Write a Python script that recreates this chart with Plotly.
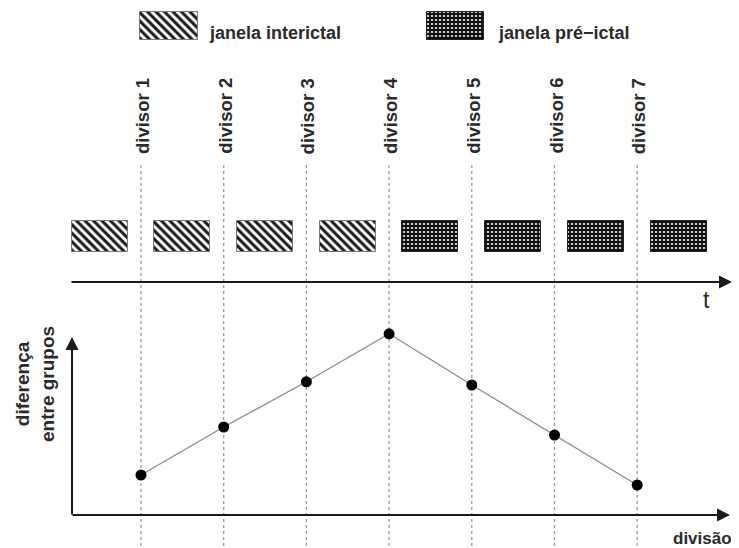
import plotly.graph_objects as go

# ---------------- data ----------------
divisor_labels = ["divisor 1", "divisor 2", "divisor 3", "divisor 4",
                  "divisor 5", "divisor 6", "divisor 7"]
divisor_pos = [1, 2, 3, 4, 5, 6, 7]
diferenca = [1.0, 2.2, 3.33, 4.53, 3.25, 2.0, 0.75]

interictal_windows = [0.5, 1.5, 2.5, 3.5]
preictal_windows = [4.5, 5.5, 6.5, 7.5]

legend_labels = ["janela interictal", "janela pré\u2212ictal"]

# ------------- pixel helpers for layout -------------
WIN_W, WIN_H = 739, 548
OFF = 8                       # page body margin
W, H = WIN_W - OFF, WIN_H - OFF
X0PX, DXPX = 141.0, 82.7      # pixel of divisor 1, pixels per divisor
Y0PX, DYPX = 515.0, 40.0      # pixel of y=0, pixels per unit

def px2x(px):
    return 1 + (px - X0PX) / DXPX

def py2y(py):
    return (Y0PX - py) / DYPX

xr = [px2x(OFF), px2x(WIN_W)]
yr = [py2y(WIN_H), py2y(OFF)]

FONT = "Liberation Sans, Arial, Helvetica, sans-serif"
TXT = "#2a2a2a"
AX_COL = "#1a1a1a"

fig = go.Figure()

# dashed divisor lines
lx, ly = [], []
for d in divisor_pos:
    lx += [d, d, None]
    ly += [py2y(165), py2y(WIN_H), None]
fig.add_trace(go.Scatter(x=lx, y=ly, mode="lines",
                         line=dict(color="#999999", width=1.3, dash="dot"),
                         hoverinfo="skip"))

inter_pat = dict(shape="\\", fgcolor="#1a1a1a", bgcolor="white",
                 size=6, solidity=0.5, fgopacity=1)
pre_pat = dict(shape="+", fgcolor="#111111", bgcolor="#c8c8c8",
               size=4, solidity=0.7, fgopacity=1)

# window boxes
box_w = 56 / DXPX
box_base = py2y(252)
box_h = py2y(221) - py2y(252)

fig.add_trace(go.Bar(
    x=interictal_windows, y=[box_h] * len(interictal_windows),
    base=[box_base] * len(interictal_windows), width=box_w,
    marker=dict(color="white", line=dict(color="#777", width=1),
                pattern=inter_pat),
    name=legend_labels[0], hoverinfo="skip"))

fig.add_trace(go.Bar(
    x=preictal_windows, y=[box_h] * len(preictal_windows),
    base=[box_base] * len(preictal_windows), width=box_w,
    marker=dict(color="#333", line=dict(color="#222", width=1),
                pattern=pre_pat),
    name=legend_labels[1], hoverinfo="skip"))

# legend swatches
leg_base = py2y(40)
leg_h = py2y(12) - py2y(40)
fig.add_trace(go.Bar(
    x=[px2x(168.5)], y=[leg_h], base=[leg_base], width=58 / DXPX,
    marker=dict(color="white", line=dict(color="#777", width=1),
                pattern=inter_pat),
    hoverinfo="skip"))
fig.add_trace(go.Bar(
    x=[px2x(455.5)], y=[leg_h], base=[leg_base], width=57 / DXPX,
    marker=dict(color="#333", line=dict(color="#222", width=1),
                pattern=pre_pat),
    hoverinfo="skip"))

# difference curve
fig.add_trace(go.Scatter(
    x=divisor_pos, y=diferenca, mode="lines+markers",
    line=dict(color="#8a8a8a", width=1.3),
    marker=dict(color="black", size=11),
    hoverinfo="skip"))

annotations = []

# divisor labels
for d, lab in zip(divisor_pos, divisor_labels):
    annotations.append(dict(x=d + 1 / DXPX, y=py2y(116), text="<b>%s</b>" % lab,
                            textangle=-90, showarrow=False,
                            xanchor="center", yanchor="middle",
                            font=dict(family=FONT, size=18.5, color=TXT)))

# legend text
annotations.append(dict(x=px2x(207), y=py2y(33), text="<b>%s</b>" % legend_labels[0],
                        showarrow=False, xanchor="left", yanchor="middle",
                        font=dict(family=FONT, size=18, color=TXT)))
annotations.append(dict(x=px2x(496), y=py2y(33), text="<b>%s</b>" % legend_labels[1],
                        showarrow=False, xanchor="left", yanchor="middle",
                        font=dict(family=FONT, size=18, color=TXT)))

# time axis arrow
annotations.append(dict(x=px2x(732), y=py2y(282), ax=px2x(70), ay=py2y(282),
                        xref="x", yref="y", axref="x", ayref="y",
                        text="", showarrow=True, arrowhead=2, arrowsize=1.3,
                        arrowwidth=2, arrowcolor=AX_COL))
annotations.append(dict(x=px2x(706), y=py2y(300), text="t", showarrow=False,
                        xanchor="center", yanchor="middle",
                        font=dict(family=FONT, size=23, color=TXT)))

# lower axes arrows
annotations.append(dict(x=px2x(730), y=py2y(515), ax=px2x(71), ay=py2y(515),
                        xref="x", yref="y", axref="x", ayref="y",
                        text="", showarrow=True, arrowhead=2, arrowsize=1.3,
                        arrowwidth=2, arrowcolor=AX_COL))
annotations.append(dict(x=px2x(72), y=py2y(337), ax=px2x(72), ay=py2y(516),
                        xref="x", yref="y", axref="x", ayref="y",
                        text="", showarrow=True, arrowhead=2, arrowsize=1.3,
                        arrowwidth=2, arrowcolor=AX_COL))
annotations.append(dict(x=px2x(734), y=py2y(538), text="<b>divisão</b>",
                        showarrow=False, xanchor="right", yanchor="middle",
                        font=dict(family=FONT, size=17, color=TXT)))
annotations.append(dict(x=px2x(35), y=py2y(384),
                        text="<b>diferença</b><br><b>entre grupos</b>", textangle=-90,
                        showarrow=False, xanchor="center", yanchor="middle",
                        align="center",
                        font=dict(family=FONT, size=19, color=TXT)))

fig.update_layout(
    width=W, height=H,
    margin=dict(l=0, r=0, t=0, b=0),
    paper_bgcolor="white", plot_bgcolor="white",
    showlegend=False, barmode="overlay", bargap=0,
    xaxis=dict(range=xr, visible=False, fixedrange=True),
    yaxis=dict(range=yr, visible=False, fixedrange=True),
    annotations=annotations,
)

fig.write_html("out.html")
